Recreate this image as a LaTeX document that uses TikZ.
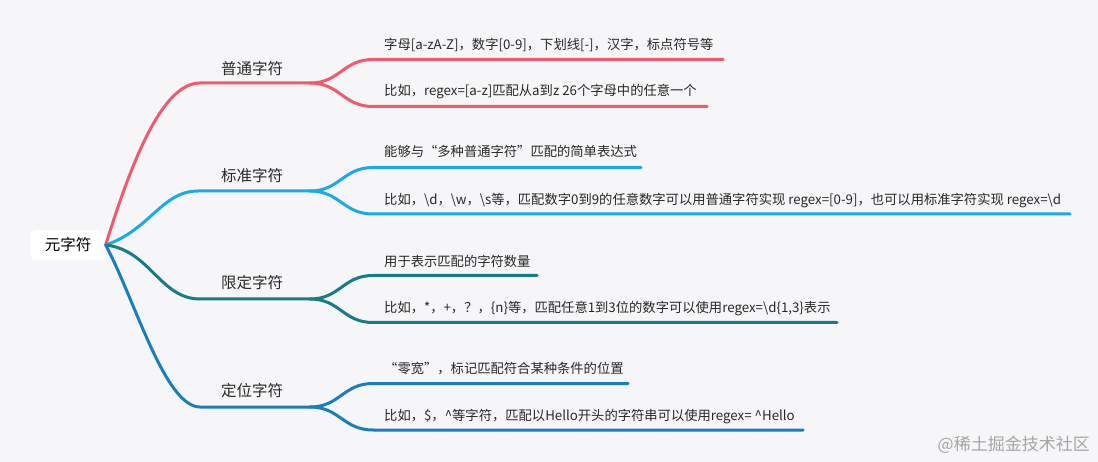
\documentclass[tikz,border=0pt]{standalone}
\usepackage{fontspec}
\newfontfamily\cjk{Noto Sans CJK SC}
\definecolor{bg}{RGB}{246,246,248}
\definecolor{cred}{RGB}{240,90,110}
\definecolor{cblue}{RGB}{26,170,230}
\definecolor{cteal}{RGB}{22,126,130}
\definecolor{cdblue}{RGB}{26,125,190}
\definecolor{txt}{RGB}{40,40,40}
\definecolor{wm}{RGB}{165,165,165}
\tikzset{
  branch/.style={line width=3pt, line cap=round},
  roottxt/.style={fill=white, rounded corners=5pt, minimum width=75pt, minimum height=30pt, inner sep=0pt, font=\cjk\fontsize{15.5}{18}\selectfont, text=black},
  topictxt/.style={inner sep=0pt, font=\cjk\fontsize{15.5}{18}\selectfont, text=txt, text height=0.88em, text depth=0.12em},
  leaftxt/.style={anchor=west, inner sep=0pt, font=\cjk\fontsize{13.3}{16}\selectfont, text=txt, text height=0.88em, text depth=0.12em},
}
\begin{document}
\begin{tikzpicture}[x=1pt,y=-1pt]
\useasboundingbox[fill=bg] (0,0) rectangle (1098,462);

% root
\node[roottxt] (root) at (68,245) {元字符};

% topics
\node[topictxt] (t1) at (252,71) {普通字符};
\node[topictxt] (t2) at (252,178) {标准字符};
\node[topictxt] (t3) at (252,285) {限定字符};
\node[topictxt] (t4) at (252,393) {定位字符};

% leaves
\node[leaftxt] (l11) at (384,45.5) {字母[a-zA-Z]，数字[0-9]，下划线[-]，汉字，标点符号等};
\node[leaftxt] (l12) at (384,92) {比如，regex=[a-z]匹配从a到z 26个字母中的任意一个};
\node[leaftxt] (l21) at (384,153) {能够与“多种普通字符”匹配的简单表达式};
\node[leaftxt] (l22) at (384,201) {比如，\textbackslash d，\textbackslash w，\textbackslash s等，匹配数字0到9的任意数字可以用普通字符实现 regex=[0-9]，也可以用标准字符实现 regex=\textbackslash d};
\node[leaftxt] (l31) at (384,263) {用于表示匹配的字符数量};
\node[leaftxt] (l32) at (384,308.5) {比如，*，+，？，\{n\}等，匹配任意1到3位的数字可以使用regex=\textbackslash d\{1,3\}表示};
\node[leaftxt] (l41) at (384,370) {“零宽”，标记匹配符合某种条件的位置};
\node[leaftxt] (l42) at (384,416.5) {比如，\$，\textasciicircum 等字符，匹配以Hello开头的字符串可以使用regex= \textasciicircum Hello};

% watermark
\node[inner sep=0pt, anchor=east, font=\cjk\fontsize{17}{20}\selectfont, text=wm] (wmk) at (1090,445) {@稀土掘金技术社区};

% joints
\coordinate (t1s) at (200,83);  \coordinate (t1f) at (310,83);
\coordinate (t2s) at (198,191); \coordinate (t2f) at (310,191);
\coordinate (t3s) at (200,299); \coordinate (t3f) at (310,299);
\coordinate (t4s) at (200,407); \coordinate (t4f) at (310,407);

\coordinate (a11) at (373,59.5);  \coordinate (e11) at (723,59.5);
\coordinate (a12) at (373,106.5); \coordinate (e12) at (707,106.5);
\coordinate (a21) at (373,167.5); \coordinate (e21) at (641,167.5);
\coordinate (a22) at (373,214); \coordinate (e22) at (1070,214);
\coordinate (a31) at (373,275.5); \coordinate (e31) at (537,275.5);
\coordinate (a32) at (373,322.5); \coordinate (e32) at (837,322.5);
\coordinate (a41) at (373,383.5); \coordinate (e41) at (628,383.5);
\coordinate (a42) at (373,430); \coordinate (e42) at (803,430);

% branch 1
\draw[branch, cred] (root.east) .. controls (135,150) and (165,83) .. (t1s) -- (t1f);
\draw[branch, cred] (t1f) .. controls (340,83) and (343,59.5) .. (a11) -- (e11);
\draw[branch, cred] (t1f) .. controls (340,83) and (343,106.5) .. (a12) -- (e12);
% branch 2
\draw[branch, cblue] (root.east) .. controls (150,230) and (162,191) .. (t2s) -- (t2f);
\draw[branch, cblue] (t2f) .. controls (340,191) and (343,167.5) .. (a21) -- (e21);
\draw[branch, cblue] (t2f) .. controls (340,191) and (343,214) .. (a22) -- (e22);
% branch 3
\draw[branch, cteal] (root.east) .. controls (150,250) and (160,299) .. (t3s) -- (t3f);
\draw[branch, cteal] (t3f) .. controls (340,299) and (343,275.5) .. (a31) -- (e31);
\draw[branch, cteal] (t3f) .. controls (340,299) and (343,322.5) .. (a32) -- (e32);
% branch 4
\draw[branch, cdblue] (root.east) .. controls (135,300) and (165,407) .. (t4s) -- (t4f);
\draw[branch, cdblue] (t4f) .. controls (340,407) and (343,383.5) .. (a41) -- (e41);
\draw[branch, cdblue] (t4f) .. controls (340,407) and (343,430) .. (a42) -- (e42);
\end{tikzpicture}
\end{document}
